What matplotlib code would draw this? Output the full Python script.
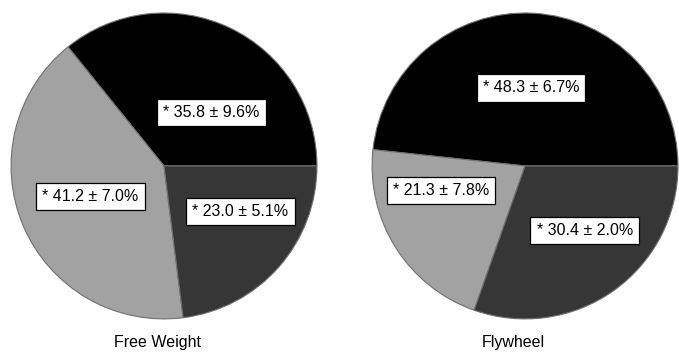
import matplotlib.pyplot as plt

# share of each muscle group per training mode (mean ± SD, %)
groups = ["Group A", "Group B", "Group C"]
free_weight_mean = [35.8, 41.2, 23.0]
free_weight_sd = [9.6, 7.0, 5.1]
flywheel_mean = [48.3, 21.3, 30.4]
flywheel_sd = [6.7, 7.8, 2.0]
titles = ["Free Weight", "Flywheel"]

colors = ["#000000", "#a2a2a2", "#363636"]

# label box centres, in units of the pie radius
free_weight_label_pos = [(0.31, 0.35), (-0.48, -0.20), (0.50, -0.30)]
flywheel_label_pos = [(0.04, 0.51), (-0.55, -0.16), (0.39, -0.42)]

fig = plt.figure(figsize=(6.79, 3.52), dpi=100)

ax_left = fig.add_axes([0.0162, 0.094, 0.4507, 0.869])
ax_right = fig.add_axes([0.5479, 0.094, 0.4507, 0.869])


def draw_pie(ax, means, sds, label_pos):
    ax.pie(
        means,
        colors=colors,
        startangle=0,
        counterclock=True,
        radius=1.0,
        wedgeprops=dict(edgecolor="#707070", linewidth=0.8),
    )
    for m, s, (x, y) in zip(means, sds, label_pos):
        ax.text(
            x, y,
            f"* {m:.1f} ± {s:.1f}%",
            ha="center",
            va="center",
            fontsize=11.5,
            family="Liberation Sans",
            bbox=dict(boxstyle="square,pad=0.38", facecolor="white",
                      edgecolor="black", linewidth=0.9),
        )
    ax.set_xlim(-1.0, 1.0)
    ax.set_ylim(-1.0, 1.0)
    ax.set_aspect("equal")
    ax.axis("off")


draw_pie(ax_left, free_weight_mean, free_weight_sd, free_weight_label_pos)
draw_pie(ax_right, flywheel_mean, flywheel_sd, flywheel_label_pos)

fig.text(158 / 679, 1 - 343 / 352, titles[0], ha="center", va="center",
         fontsize=11.5, family="Liberation Sans")
fig.text(513 / 679, 1 - 343 / 352, titles[1], ha="center", va="center",
         fontsize=11.5, family="Liberation Sans")

plt.savefig("out.png", dpi=100)
plt.close()
